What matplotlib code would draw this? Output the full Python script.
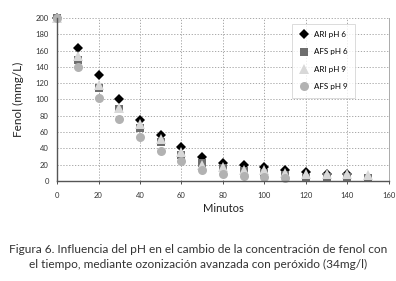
import numpy as np
import matplotlib
matplotlib.use("Agg")
import matplotlib.pyplot as plt

plt.rcParams['font.family'] = ['Lato', 'DejaVu Sans']

# minutes
minutos = [0, 10, 20, 30, 40, 50, 60, 70, 80, 90, 100, 110, 120, 130, 140, 150]

# fenol (mg/L) per series
ari_ph6 = [200, 163, 130, 100, 75, 57, 42, 29, 22, 19, 17, 13, 11, 9, 9, np.nan]
afs_ph6 = [200, 148, 114, 88, 65, 48, 32, 22, 16, 12, 10, 7, 4, 5, 5, 4]
ari_ph9 = [200, 153, 118, 90, 70, 51, 35, 20, 17, 14, 13, 10, 8, 8, 8, 7]
afs_ph9 = [200, 140, 102, 76, 54, 37, 25, 13, 9, 6, 5, 4, np.nan, np.nan, np.nan, np.nan]

series = [
    ("ARI pH 6", ari_ph6, "D", "#000000", 5),
    ("AFS pH 6", afs_ph6, "s", "#6e6e6e", 6),
    ("ARI pH 9", ari_ph9, "^", "#d8d8d8", 7),
    ("AFS pH 9", afs_ph9, "o", "#b2b2b2", 6.5),
]

fig = plt.figure(figsize=(3.96, 2.81), dpi=100)
ax = fig.add_axes([0.144, 0.356, 0.838, 0.58])

for label, vals, mk, col, ms in series:
    ax.plot(minutos, vals, linestyle="none", marker=mk, color=col,
            markersize=ms, markeredgewidth=0, label=label, clip_on=False)

ax.set_xlim(0, 160)
ax.set_ylim(0, 200)
ax.set_xticks(range(0, 161, 20))
ax.set_yticks(range(0, 201, 20))
ax.grid(True, linestyle=(0, (1.5, 2)), color="#9a9a9a", linewidth=0.6)
ax.set_axisbelow(True)

ax.spines["top"].set_visible(False)
ax.spines["left"].set_color("#555555")
ax.spines["bottom"].set_color("#555555")
ax.spines["right"].set_color("#aaaaaa")
ax.spines["left"].set_linewidth(1.0)
ax.spines["bottom"].set_linewidth(1.0)
ax.spines["right"].set_linewidth(0.7)

ax.tick_params(axis="both", labelsize=5.5, colors="#333333", length=2, width=0.6, pad=6)
ax.tick_params(axis="y", length=0, pad=6)

ax.set_xlabel("Minutos", fontsize=8, color="#222222", labelpad=3)
ax.set_ylabel("Fenol (mmg/L)", fontsize=8.5, color="#222222", labelpad=8)

leg = ax.legend(loc="upper right", bbox_to_anchor=(0.91, 0.99), fontsize=5.8,
                frameon=True, fancybox=False, edgecolor="#cccccc",
                borderpad=0.9, labelspacing=1.3, handletextpad=0.8,
                handlelength=1.0)
leg.get_frame().set_linewidth(0.6)

fig.text(0.5, 0.085, "Figura 6. Influencia del pH en el cambio de la concentración de fenol con\n"
         "el tiempo, mediante ozonización avanzada con peróxido (34mg/l)",
         ha="center", va="center", fontsize=8.6, color="#333333", linespacing=1.4)

fig.savefig("out.png", dpi=100)
